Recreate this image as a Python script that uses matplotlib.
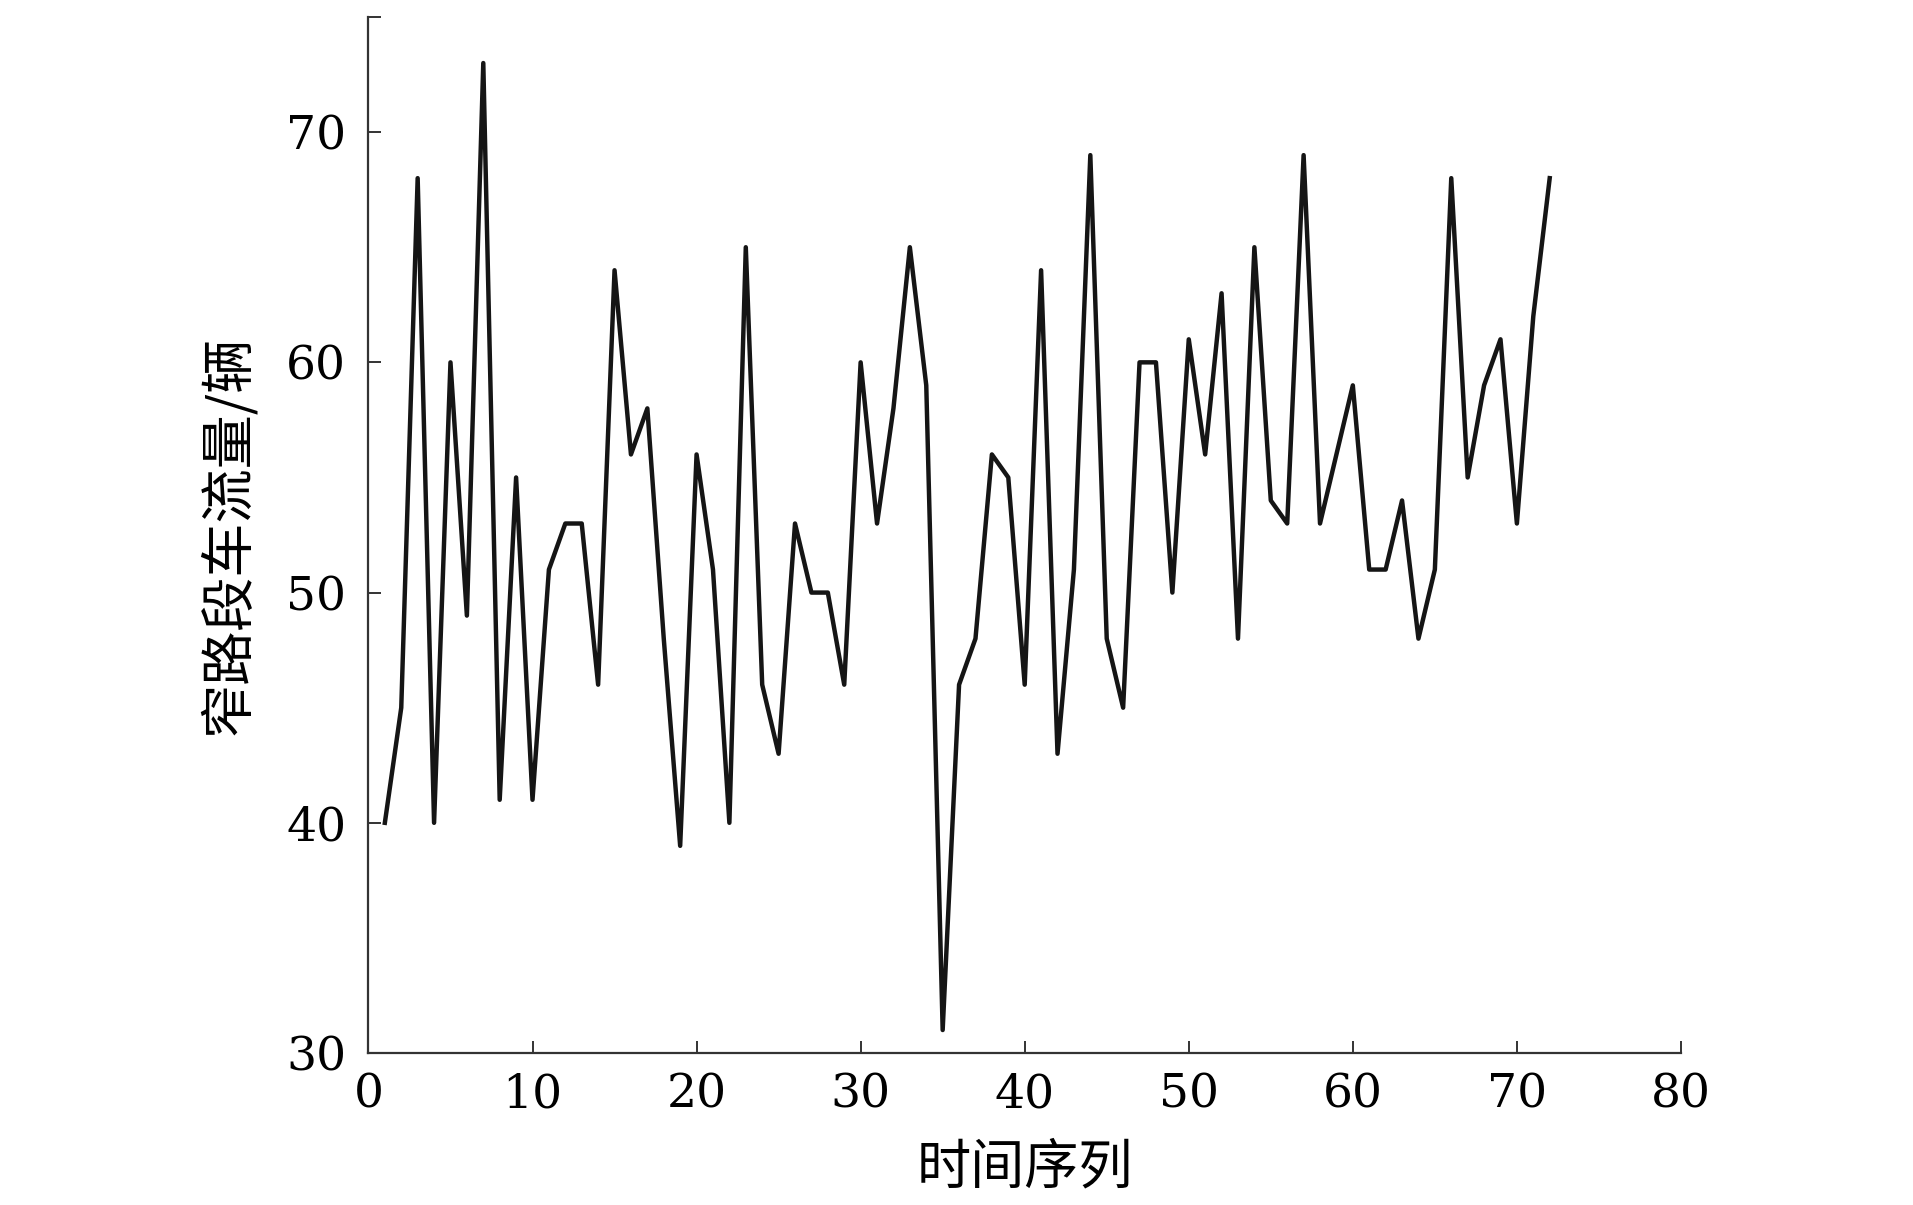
import matplotlib
matplotlib.use("Agg")
import matplotlib.pyplot as plt
import numpy as np

# time index and traffic counts
t = list(range(1, 73))
flow = [40, 45, 68, 40, 60, 49, 73, 41, 55, 41,
        51, 53, 53, 46, 64, 56, 58, 48, 39, 56,
        51, 40, 65, 46, 43, 53, 50, 50, 46, 60,
        53, 58, 65, 59, 31, 46, 48, 56, 55, 46,
        64, 43, 51, 69, 48, 45, 60, 60, 50, 61,
        56, 63, 48, 65, 54, 53, 69, 53, 56, 59,
        51, 51, 54, 48, 51, 68, 55, 59, 61, 53,
        62, 68]

xticks = [0, 10, 20, 30, 40, 50, 60, 70, 80]
yticks = [30, 40, 50, 60, 70, 75]
ytick_labels = ['30', '40', '50', '60', '70', '']

xlabel = '时间序列'
ylabel = '窄路段车流量/辆'

fig = plt.figure(figsize=(19.13, 12.05), dpi=100)
ax = fig.add_axes([0.1926, 0.1261, 0.6861, 0.8598])

ax.plot(t, flow, color='#151515', linewidth=3.2)

ax.set_xlim(0, 80)
ax.set_ylim(30, 75)
ax.set_xticks(xticks)
ax.set_yticks(yticks)
ax.set_yticklabels(ytick_labels)

ax.spines['top'].set_visible(False)
ax.spines['right'].set_visible(False)
for s in ['left', 'bottom']:
    ax.spines[s].set_linewidth(1.6)
    ax.spines[s].set_color('#333333')

ax.tick_params(direction='in', length=9, width=1.4, color='#333333',
               labelsize=34, labelcolor='black')
ax.tick_params(axis='x', pad=14)
ax.tick_params(axis='y', pad=16)
for lab in ax.get_xticklabels() + ax.get_yticklabels():
    lab.set_family('DejaVu Serif')
    lab.set_fontweight('medium')

cjk = ['Noto Sans CJK SC', 'DejaVu Sans']
ax.set_xlabel(xlabel, fontsize=39, family=cjk, labelpad=16)
ax.set_ylabel(ylabel, fontsize=39, family=cjk, labelpad=22)

fig.savefig('out.png', dpi=100)
